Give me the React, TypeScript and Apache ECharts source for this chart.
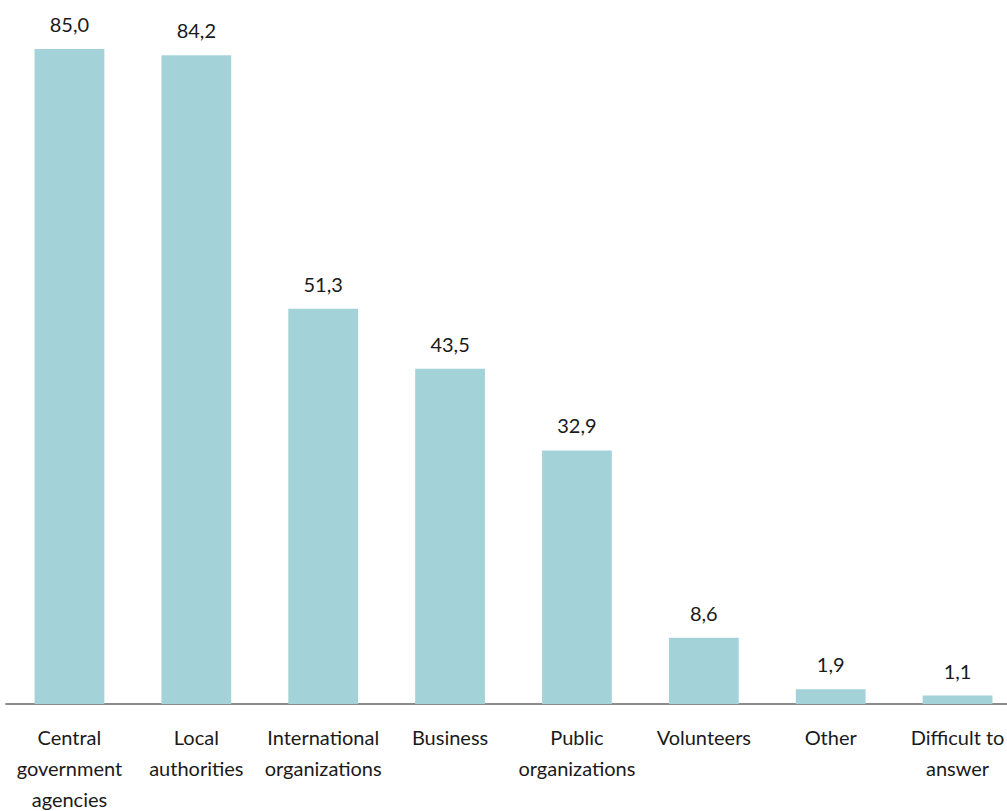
import React, { useEffect, useRef } from "react";
import * as echarts from "echarts";

const categories = [
  "Central\ngovernment\nagencies",
  "Local\nauthorities",
  "International\norganizations",
  "Business",
  "Public\norganizations",
  "Volunteers",
  "Other",
  "Difficult to\nanswer",
];
const values = [85.0, 84.2, 51.3, 43.5, 32.9, 8.6, 1.9, 1.1];

const FONT = "Lato, 'Noto Sans', sans-serif";

export default function App() {
  const ref = useRef<HTMLDivElement>(null);
  useEffect(() => {
    if (!ref.current) return;
    document.documentElement.style.overflow = "hidden";
    document.body.style.margin = "0";
    document.body.style.overflow = "hidden";
    const chart = echarts.init(ref.current, undefined, { renderer: "svg" });
    chart.setOption({
      animation: false,
      grid: {
        left: 6,
        width: 1015,
        top: 49,
        bottom: 107,
        containLabel: false,
        outerBoundsMode: "none",
      },
      xAxis: {
        type: "category",
        data: categories,
        axisLine: { lineStyle: { color: "#8c8c8c", width: 2 } },
        axisTick: { show: false },
        axisLabel: {
          interval: 0,
          color: "#1a1a1a",
          fontFamily: FONT,
          fontSize: 20,
          lineHeight: 31,
          margin: 17,
        },
      },
      yAxis: {
        type: "value",
        min: 0,
        max: 85,
        show: false,
        splitLine: { show: false },
      },
      series: [
        {
          type: "bar",
          data: values,
          barWidth: "55%",
          itemStyle: { color: "#a3d3d9" },
          label: {
            show: true,
            position: "top",
            distance: 15,
            color: "#1a1a1a",
            fontFamily: FONT,
            fontSize: 20,
            formatter: (p: any) => Number(p.value).toFixed(1).replace(".", ","),
          },
        },
      ],
    });
    return () => chart.dispose();
  }, []);
  return (
    <div
      ref={ref}
      style={{
        width: 1007,
        height: 811,
        position: "absolute",
        left: 0,
        top: 0,
        overflow: "hidden",
        background: "#fff",
      }}
    />
  );
}
